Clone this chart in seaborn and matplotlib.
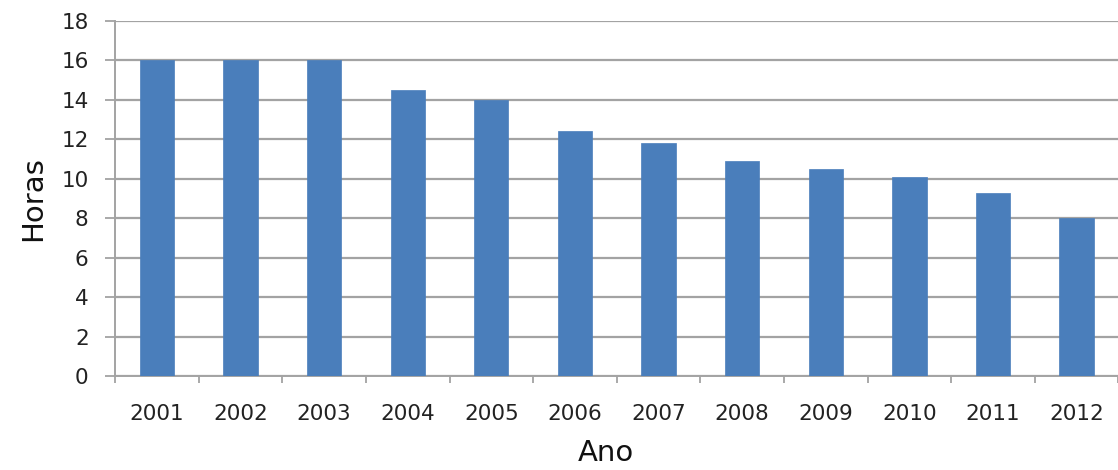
import matplotlib
matplotlib.use("Agg")
import matplotlib.pyplot as plt
import seaborn as sns
import pandas as pd
import numpy as np

anos = ["2001", "2002", "2003", "2004", "2005", "2006",
        "2007", "2008", "2009", "2010", "2011", "2012"]
horas = [16.0, 16.0, 16.0, 14.5, 14.0, 12.4, 11.8, 10.9, 10.5, 10.1, 9.3, 8.0]
yticks = [0, 2, 4, 6, 8, 10, 12, 14, 16, 18]

df = pd.DataFrame({"Ano": anos, "Horas": horas})

sns.set_theme(style="white")
plt.rcParams["font.family"] = ["DejaVu Sans"]

fig = plt.figure(figsize=(11.18, 4.70), dpi=100)
ax = fig.add_axes([0.1029, 0.2, 0.8975, 0.7553])

bar_col = "#4A7EBB"
sns.barplot(data=df, x="Ano", y="Horas", color=bar_col, width=0.41,
            saturation=1, edgecolor=bar_col, linewidth=0.5, ax=ax, zorder=3)

grid_col = "#A3A3A3"
ax.set_ylim(0, 18)
ax.set_xlim(-0.5, len(anos) - 0.5)
ax.set_yticks(yticks)
ax.yaxis.grid(True, color=grid_col, linewidth=1.6, zorder=0)
ax.set_axisbelow(True)

for s in ["top", "right"]:
    ax.spines[s].set_visible(False)
for s in ["left", "bottom"]:
    ax.spines[s].set_color(grid_col)
    ax.spines[s].set_linewidth(1.4)

# category boundary ticks on x, plain outward ticks on y
ax.set_xticks(np.arange(-0.5, len(anos), 1.0), minor=True)
ax.tick_params(axis="x", which="major", length=0, pad=20, labelsize=15.5,
               labelcolor="#222222")
ax.tick_params(axis="x", which="minor", length=5, width=1.3, color=grid_col,
               direction="out", bottom=True)
ax.tick_params(axis="y", which="major", length=7, width=1.3, color=grid_col,
               direction="out", left=True, pad=12, labelsize=15.5,
               labelcolor="#222222")

ax.set_xlabel("Ano", fontsize=21, color="#111111")
ax.set_ylabel("Horas", fontsize=21, color="#111111")
ax.xaxis.set_label_coords(0.489, -0.178)
ax.yaxis.set_label_coords(-0.068, 0.5)

fig.savefig("out.png", dpi=100, facecolor="white")
